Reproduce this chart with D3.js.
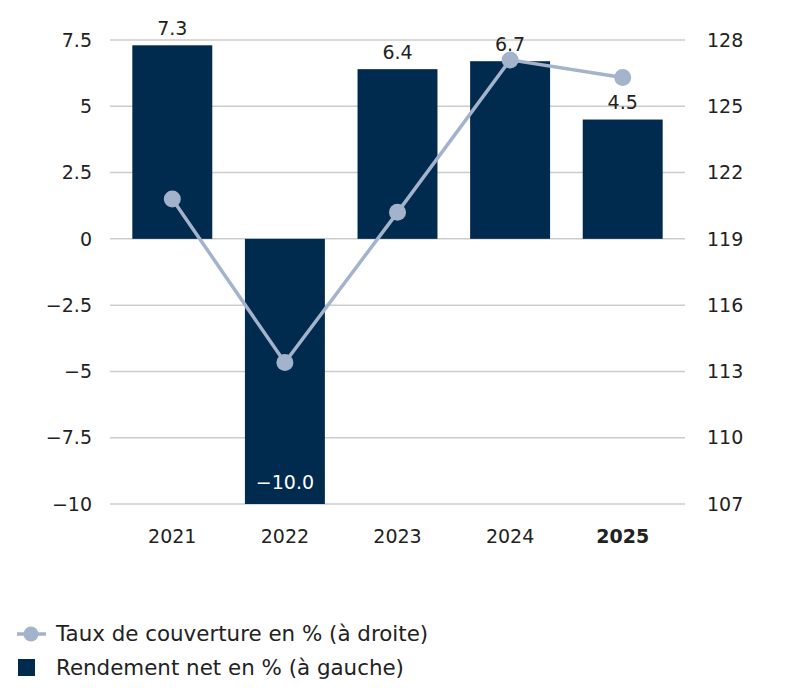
<!DOCTYPE html>
<html>
<head>
<meta charset="utf-8">
<script src="https://cdn.jsdelivr.net/npm/d3@7"></script>
<style>
  body { margin: 0; background: #fff; }
  text { font-family: "DejaVu Sans", sans-serif; }
</style>
</head>
<body>
<script>
// data
var years = ["2021", "2022", "2023", "2024", "2025"];
var rendement = [7.3, -10.0, 6.4, 6.7, 4.5];
var couverture = [120.8, 113.4, 120.2, 127.1, 126.3];
var leftTicks = [-10, -7.5, -5, -2.5, 0, 2.5, 5, 7.5];
var rightTicks = [107, 110, 113, 116, 119, 122, 125, 128];

var width = 800, height = 688;
var barColor = "#002a4e", lineColor = "#a3b3cb", gridColor = "#cccccc", textColor = "#222";

var svg = d3.select("body").append("svg")
  .attr("width", width)
  .attr("height", height);

var xScale = d3.scaleBand().domain(years).range([116, 679]).paddingInner(0.29).paddingOuter(0.145);
var yLeft = d3.scaleLinear().domain([-10, 7.5]).range([504, 40]);
var yRight = d3.scaleLinear().domain([107, 128]).range([504, 40]);

function minus(v) { return String(v).replace("-", "\u2212"); }

// gridlines
svg.append("g").selectAll("line")
  .data(leftTicks)
  .enter().append("line")
  .attr("x1", 110).attr("x2", 685)
  .attr("y1", function(d) { return yLeft(d); })
  .attr("y2", function(d) { return yLeft(d); })
  .attr("stroke", gridColor)
  .attr("stroke-width", 1.5);

// left axis labels
svg.append("g").selectAll("text")
  .data(leftTicks)
  .enter().append("text")
  .attr("x", 92)
  .attr("y", function(d) { return yLeft(d); })
  .attr("dy", "0.35em")
  .attr("text-anchor", "end")
  .attr("font-size", "19px")
  .attr("fill", textColor)
  .text(function(d) { return minus(d); });

// right axis labels
svg.append("g").selectAll("text")
  .data(rightTicks)
  .enter().append("text")
  .attr("x", 707)
  .attr("y", function(d) { return yRight(d); })
  .attr("dy", "0.35em")
  .attr("text-anchor", "start")
  .attr("font-size", "19px")
  .attr("fill", textColor)
  .text(function(d) { return d; });

// x labels
svg.append("g").selectAll("text")
  .data(years)
  .enter().append("text")
  .attr("x", function(d) { return xScale(d) + xScale.bandwidth() / 2; })
  .attr("y", 536)
  .attr("dy", "0.35em")
  .attr("text-anchor", "middle")
  .attr("font-size", "19px")
  .attr("font-weight", function(d, i) { return i == years.length - 1 ? "bold" : "normal"; })
  .attr("fill", textColor)
  .text(function(d) { return d; });

// bars
svg.append("g").selectAll("rect")
  .data(rendement)
  .enter().append("rect")
  .attr("x", function(d, i) { return xScale(years[i]); })
  .attr("y", function(d) { return yLeft(Math.max(0, d)); })
  .attr("width", xScale.bandwidth())
  .attr("height", function(d) { return Math.abs(yLeft(d) - yLeft(0)); })
  .attr("fill", barColor);

// bar labels
svg.append("g").selectAll("text")
  .data(rendement)
  .enter().append("text")
  .attr("x", function(d, i) { return xScale(years[i]) + xScale.bandwidth() / 2; })
  .attr("y", function(d) { return d >= 0 ? yLeft(d) - 17 : yLeft(d) - 22; })
  .attr("dy", "0.35em")
  .attr("text-anchor", "middle")
  .attr("font-size", "19px")
  .attr("fill", function(d) { return d >= 0 ? textColor : "#fff"; })
  .text(function(d) { return minus(d.toFixed(1)); });

// line
var line = d3.line()
  .x(function(d, i) { return xScale(years[i]) + xScale.bandwidth() / 2; })
  .y(function(d) { return yRight(d); });

svg.append("path")
  .datum(couverture)
  .attr("d", line)
  .attr("fill", "none")
  .attr("stroke", lineColor)
  .attr("stroke-width", 3.5);

svg.append("g").selectAll("circle")
  .data(couverture)
  .enter().append("circle")
  .attr("cx", function(d, i) { return xScale(years[i]) + xScale.bandwidth() / 2; })
  .attr("cy", function(d) { return yRight(d); })
  .attr("r", 8.5)
  .attr("fill", lineColor);

// legend
var legend = svg.append("g");
legend.append("line")
  .attr("x1", 17).attr("x2", 46)
  .attr("y1", 634).attr("y2", 634)
  .attr("stroke", lineColor)
  .attr("stroke-width", 3.5);
legend.append("circle")
  .attr("cx", 31).attr("cy", 634).attr("r", 7.5)
  .attr("fill", lineColor);
legend.append("text")
  .attr("x", 56).attr("y", 634).attr("dy", "0.35em")
  .attr("font-size", "21.4px").attr("fill", textColor)
  .text("Taux de couverture en % (à droite)");
legend.append("rect")
  .attr("x", 18).attr("y", 659).attr("width", 17).attr("height", 17)
  .attr("fill", barColor);
legend.append("text")
  .attr("x", 56).attr("y", 668).attr("dy", "0.35em")
  .attr("font-size", "21.4px").attr("fill", textColor)
  .text("Rendement net en % (à gauche)");
</script>
</body>
</html>
